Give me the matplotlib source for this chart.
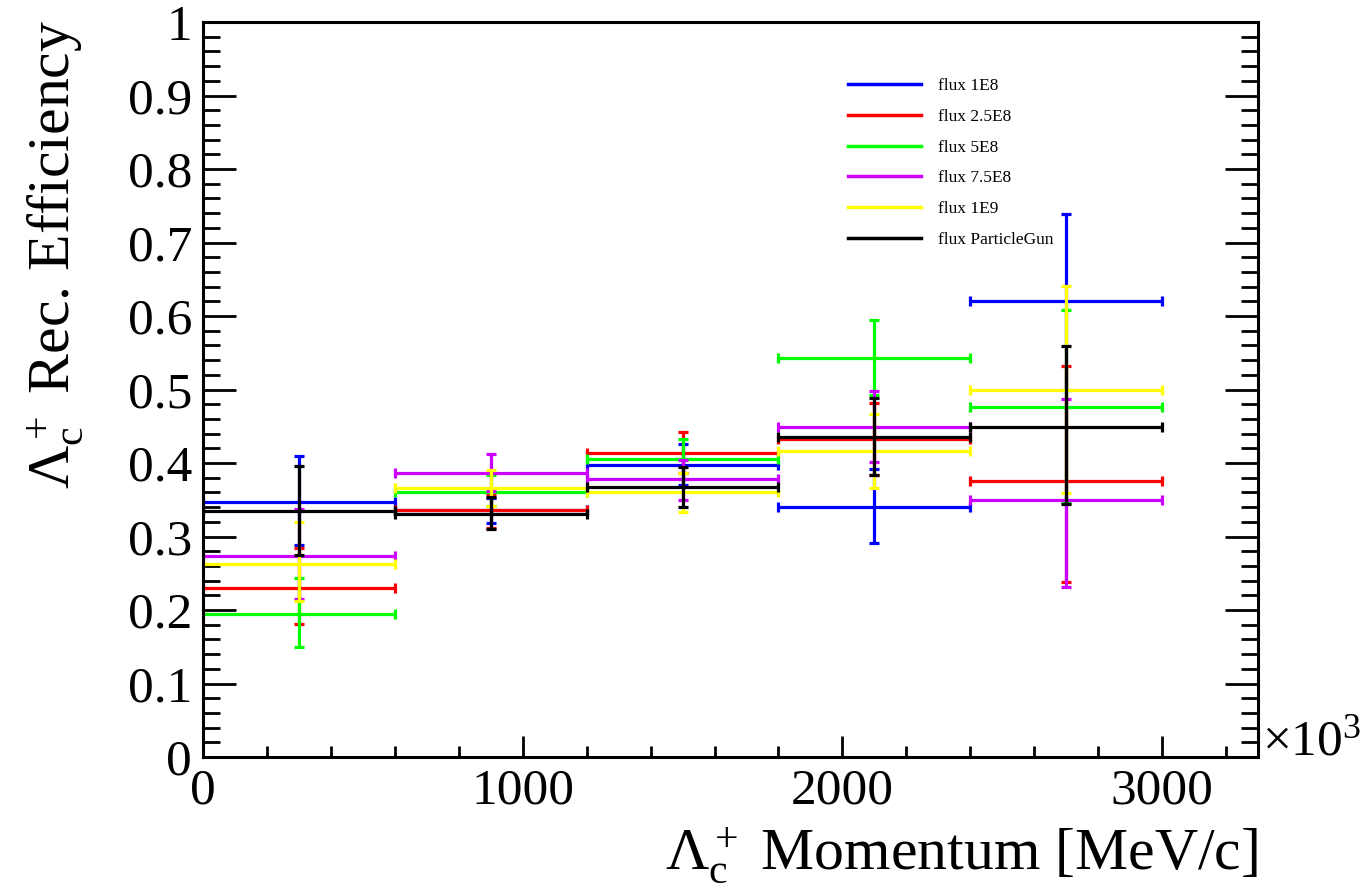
import numpy as np
import matplotlib
matplotlib.use("Agg")
import matplotlib.pyplot as plt
from matplotlib.lines import Line2D
from matplotlib.ticker import MultipleLocator, FixedLocator, FixedFormatter

plt.rcParams['font.family'] = ['Liberation Serif', 'DejaVu Serif']
plt.rcParams['mathtext.fontset'] = 'custom'
plt.rcParams['mathtext.rm'] = 'Liberation Serif'
plt.rcParams['mathtext.it'] = 'Liberation Serif:italic'
plt.rcParams['mathtext.bf'] = 'Liberation Serif:bold'

# Momentum bins [MeV/c]
bin_edges = np.array([0, 600, 1200, 1800, 2400, 3000])
bin_centers = 0.5 * (bin_edges[:-1] + bin_edges[1:])
bin_half = 0.5 * np.diff(bin_edges)

labels = ["flux 1E8", "flux 2.5E8", "flux 5E8", "flux 7.5E8", "flux 1E9", "flux ParticleGun"]
colors = ["#0000ff", "#ff0000", "#00ff00", "#cc00ff", "#ffff00", "#000000"]

# Reconstruction efficiency with lower / upper interval bounds
eff_1e8 = [0.347, 0.336, 0.397, 0.340, 0.620]
hi_1e8 = [0.409, 0.352, 0.426, 0.392, 0.739]
lo_1e8 = [0.289, 0.318, 0.370, 0.291, 0.500]

eff_25e8 = [0.230, 0.336, 0.414, 0.432, 0.375]
hi_25e8 = [0.285, 0.358, 0.442, 0.482, 0.532]
lo_25e8 = [0.181, 0.312, 0.386, 0.384, 0.238]

eff_5e8 = [0.195, 0.361, 0.405, 0.543, 0.476]
hi_5e8 = [0.244, 0.383, 0.432, 0.595, 0.608]
lo_5e8 = [0.150, 0.341, 0.378, 0.492, 0.345]

eff_75e8 = [0.273, 0.387, 0.378, 0.449, 0.350]
hi_75e8 = [0.338, 0.412, 0.404, 0.498, 0.487]
lo_75e8 = [0.215, 0.362, 0.350, 0.401, 0.231]

eff_1e9 = [0.262, 0.366, 0.360, 0.417, 0.500]
hi_1e9 = [0.320, 0.390, 0.387, 0.467, 0.641]
lo_1e9 = [0.212, 0.341, 0.334, 0.366, 0.359]

eff_gun = [0.335, 0.330, 0.367, 0.436, 0.449]
hi_gun = [0.396, 0.354, 0.395, 0.489, 0.559]
lo_gun = [0.275, 0.310, 0.340, 0.383, 0.344]

series = [
    (eff_1e8, lo_1e8, hi_1e8),
    (eff_25e8, lo_25e8, hi_25e8),
    (eff_5e8, lo_5e8, hi_5e8),
    (eff_75e8, lo_75e8, hi_75e8),
    (eff_1e9, lo_1e9, hi_1e9),
    (eff_gun, lo_gun, hi_gun),
]

W, H = 1366, 890
fig = plt.figure(figsize=(W / 100, H / 100), dpi=100)
ax_left, ax_right, ax_top, ax_bottom = 203, 1258, 22, 757
ax = fig.add_axes([ax_left / W, 1 - ax_bottom / H,
                   (ax_right - ax_left) / W, (ax_bottom - ax_top) / H])

for (eff, lo, hi), col in zip(series, colors):
    eff = np.asarray(eff)
    yerr = np.vstack([eff - np.asarray(lo), np.asarray(hi) - eff])
    ax.errorbar(bin_centers, eff, xerr=bin_half, yerr=yerr, fmt='none',
                ecolor=col, elinewidth=2.3, capsize=3.5, capthick=2.3)

ax.set_xlim(0, 3300)
ax.set_ylim(0, 1)

# Frame and ticks
for sp in ax.spines.values():
    sp.set_linewidth(2.2)
ax.xaxis.set_major_locator(MultipleLocator(1000))
ax.xaxis.set_minor_locator(MultipleLocator(200))
yt = np.round(np.arange(0, 1.01, 0.1), 1)
ax.yaxis.set_major_locator(FixedLocator(yt))
ax.yaxis.set_major_formatter(FixedFormatter(["0"] + [f"{v:g}" for v in yt[1:]]))
ax.yaxis.set_minor_locator(MultipleLocator(0.02))
ax.tick_params(axis='x', which='major', direction='in', length=15, width=2.0,
               labelsize=37, pad=8, top=False)
ax.tick_params(axis='x', which='minor', direction='in', length=8, width=2.0, top=False)
ax.tick_params(axis='y', which='major', direction='in', length=24, width=2.0,
               labelsize=37, pad=8, left=True, right=True)
ax.tick_params(axis='y', which='minor', direction='in', length=12, width=2.0,
               left=True, right=True)

# Axis titles
fig.text(55 / W, 1 - 20 / H, r"$\mathrm{\Lambda_c^+}$ Rec. Efficiency",
         rotation=90, ha='center', va='top', fontsize=43)
fig.text(ax_right / W, 1 - 855 / H, r"$\mathrm{\Lambda_c^+}$ Momentum [MeV/c]",
         ha='right', va='center', fontsize=43)
fig.text(1262 / W, 1 - 742 / H, r"$\times\mathrm{10^3}$", ha='left', va='center',
         fontsize=37)

# Legend
handles = [Line2D([0], [0], color=c, lw=2.5) for c in colors]
ax.legend(handles, labels, loc='upper left',
          bbox_to_anchor=(848 / W, 1 - 78 / H), bbox_transform=fig.transFigure,
          frameon=False, fontsize=12.5, handlelength=4.2, handletextpad=1.0,
          labelspacing=0.84, borderpad=0, borderaxespad=0)

fig.savefig("out.png", dpi=100)
